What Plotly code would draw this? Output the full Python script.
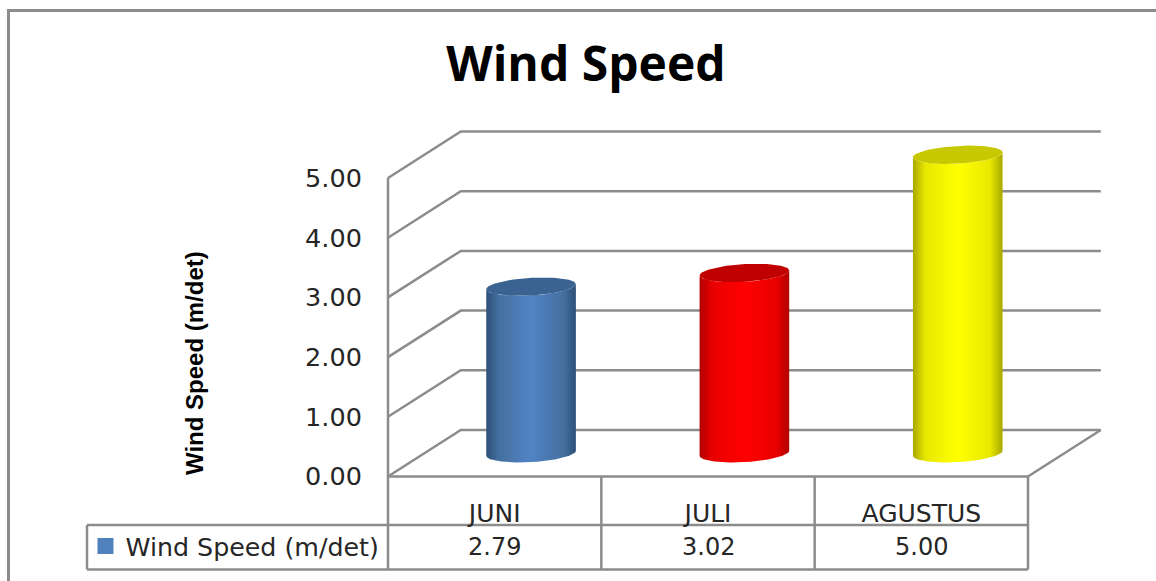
import numpy as np
import plotly.graph_objects as go

# Chart data
months = ["JUNI", "JULI", "AGUSTUS"]
wind_speed = [2.79, 3.02, 5.00]
series_name = "Wind Speed (m/det)"
y_ticks = [0, 1, 2, 3, 4, 5]

# Cylinder colours: edge shade, shoulder shade, centre shade, top cap
edge_colors = ["#2C4F78", "#B00000", "#A8A800"]
shoulder_colors = ["#44709F", "#E80000", "#E8E800"]
mid_colors = ["#5183C6", "#FF0000", "#FFFF00"]
cap_colors = ["#3A6391", "#C00000", "#C8C800"]
swatch_color = "#4F81BD"
line_color = "#8C8C8C"
text_color = "#262626"

WIDTH, HEIGHT = 1156, 581
AXIS_LEFT, ZERO_Y = 388.0, 476.5
CAT_PX, UNIT_PX = 213.33, 59.7

# Oblique projection of the box, expressed in axis units
DEPTH_X = 72.8 / CAT_PX
DEPTH_Y = 46.5 / UNIT_PX
RADIUS_X = 44.8 / CAT_PX
ROW_1 = -48.5 / UNIT_PX
ROW_2 = -93.0 / UNIT_PX
FRONT = -0.5
X_MIN = FRONT - AXIS_LEFT / CAT_PX
X_MAX = FRONT + (WIDTH - AXIS_LEFT) / CAT_PX
Y_MIN = (ZERO_Y - HEIGHT) / UNIT_PX
Y_MAX = ZERO_Y / UNIT_PX
SHEAR = 2.5 / UNIT_PX
MINOR = 8.8 / UNIT_PX

fig = go.Figure()


def add_line(xs, ys):
    fig.add_trace(go.Scatter(
        x=xs, y=ys, mode="lines", showlegend=False, hoverinfo="skip",
        line=dict(color=line_color, width=2.5),
    ))


n = len(months)
x_right = FRONT + n
top = max(y_ticks)

# Walls and floor of the box
for v in y_ticks:
    add_line([FRONT, FRONT + DEPTH_X, x_right + DEPTH_X],
             [v, v + DEPTH_Y, v + DEPTH_Y])
add_line([x_right, x_right + DEPTH_X], [0, DEPTH_Y])
add_line([FRONT, FRONT], [top, ROW_2])

# Data table beneath the floor
add_line([FRONT, x_right, x_right], [0, 0, ROW_2])
for i in range(1, n):
    add_line([FRONT + i, FRONT + i], [0, ROW_2])
left_cell = FRONT - 301.0 / CAT_PX
add_line([left_cell, x_right], [ROW_1, ROW_1])
add_line([left_cell, x_right], [ROW_2, ROW_2])
add_line([left_cell, left_cell], [ROW_1, ROW_2])

# Cylinders: shaded body first, then the flat top cap
t_low = np.linspace(np.pi, 2 * np.pi, 60)
t_cap = np.linspace(0, 2 * np.pi, 90)


def ellipse(cx, base, t):
    return (cx + RADIUS_X * np.cos(t),
            base + SHEAR * np.cos(t) + MINOR * np.sin(t))


for i, value in enumerate(wind_speed):
    cx = i + DEPTH_X / 2
    floor = DEPTH_Y / 2
    lx, ly = ellipse(cx, floor, t_low)
    ux, uy = ellipse(cx, floor + value, t_low[::-1])
    fig.add_trace(go.Scatter(
        x=np.concatenate([lx, ux]), y=np.concatenate([ly, uy]),
        mode="lines", line=dict(width=0), fill="toself", hoverinfo="skip",
        showlegend=False,
        fillgradient=dict(
            type="horizontal",
            colorscale=[[0, edge_colors[i]], [0.14, shoulder_colors[i]],
                        [0.5, mid_colors[i]], [0.86, shoulder_colors[i]],
                        [1, edge_colors[i]]],
        ),
    ))
    cap_x, cap_y = ellipse(cx, floor + value, t_cap)
    fig.add_trace(go.Scatter(
        x=cap_x, y=cap_y, mode="lines", line=dict(width=0),
        fill="toself", fillcolor=cap_colors[i], hoverinfo="skip",
        showlegend=False,
    ))

# Series key shown in the table's first column
fig.add_trace(go.Scatter(
    x=[None], y=[None], mode="markers", name=series_name,
    marker=dict(symbol="square", size=17, color=swatch_color),
))

# Values row of the table
for i, value in enumerate(wind_speed):
    fig.add_annotation(
        x=i, y=(ROW_1 + ROW_2) / 2, text=f"{value:.2f}", showarrow=False,
        font=dict(family="DejaVu Sans", size=24, color=text_color),
    )

# Value axis title
fig.add_annotation(
    xref="paper", yref="paper", x=194 / WIDTH, y=1 - 363 / HEIGHT,
    xanchor="center", yanchor="middle",
    showarrow=False, text=f"<b>{series_name}</b>", textangle=-90,
    font=dict(family="Liberation Sans", size=24, color="#000000"),
)

# Outer chart frame
fig.add_shape(
    type="path", xref="paper", yref="paper",
    path="M {0:.5f} 0 L {0:.5f} {1:.5f} L 1 {1:.5f}".format(
        8.5 / WIDTH, 1 - 10.5 / HEIGHT),
    line=dict(color=line_color, width=3),
)

fig.update_layout(
    width=WIDTH, height=HEIGHT,
    margin=dict(l=0, r=0, t=0, b=0),
    paper_bgcolor="#FFFFFF", plot_bgcolor="rgba(0,0,0,0)",
    title=dict(
        text="<b>Wind Speed</b>", x=586 / WIDTH, xanchor="center",
        y=1 - 64 / HEIGHT, yanchor="middle",
        font=dict(family="Open Sans", size=48, color="#000000"),
    ),
    showlegend=True,
    legend=dict(
        x=85.5 / WIDTH, xanchor="left",
        y=1 - 546 / HEIGHT, yanchor="middle", bgcolor="rgba(0,0,0,0)",
        font=dict(family="DejaVu Sans", size=25.3, color=text_color),
        itemsizing="trace",
    ),
    xaxis=dict(
        domain=[0, 1], range=[X_MIN, X_MAX],
        anchor="free", position=(HEIGHT - ZERO_Y) / HEIGHT,
        tickmode="array", tickvals=list(range(n)), ticktext=months,
        showgrid=False, zeroline=False, showline=False,
        ticks="outside", ticklen=14, tickcolor="rgba(0,0,0,0)",
        tickfont=dict(family="DejaVu Sans", size=25, color=text_color),
    ),
    yaxis=dict(
        domain=[0, 1], range=[Y_MIN, Y_MAX],
        anchor="free", position=AXIS_LEFT / WIDTH,
        tickmode="array", tickvals=y_ticks, tickformat=".2f",
        showgrid=False, zeroline=False, showline=False,
        ticks="outside", ticklen=21, tickcolor="rgba(0,0,0,0)",
        tickfont=dict(family="DejaVu Sans", size=25.5, color=text_color),
    ),
)

fig.write_html("out.html")
